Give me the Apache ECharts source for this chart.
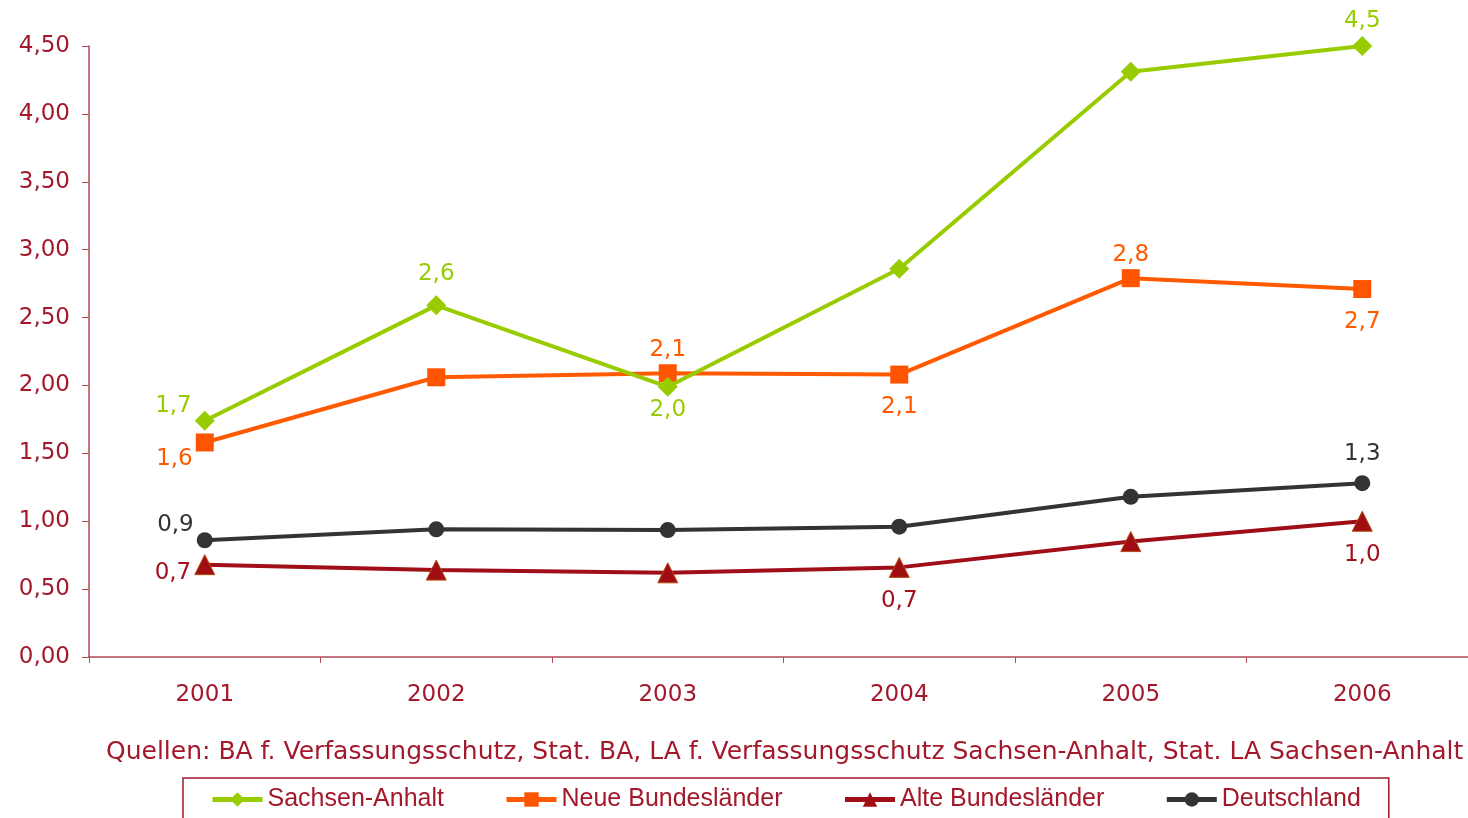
<!DOCTYPE html>
<html>
<head>
<meta charset="utf-8">
<script src="https://cdn.jsdelivr.net/npm/echarts@6/dist/echarts.min.js"></script>
<style>
  html, body { margin: 0; padding: 0; background: #fff; }
  #chart { width: 1468px; height: 818px; }
</style>
</head>
<body>
<div id="chart"></div>
<script>
// values
const years = ['2001', '2002', '2003', '2004', '2005', '2006'];
const sachsenAnhalt = [1.74, 2.59, 1.99, 2.86, 4.31, 4.50];
const neueLaender = [1.58, 2.06, 2.09, 2.08, 2.79, 2.71];
const alteLaender = [0.68, 0.64, 0.62, 0.66, 0.85, 1.00];
const deutschland = [0.86, 0.94, 0.935, 0.96, 1.18, 1.28];

// which points carry a value label, and where it sits (null = no label)
const sachsenLabels = ['leftTop', 'top', 'bottomNear', null, null, 'topNear'];
const neueLabels = ['leftBottom', null, 'topNear', 'bottom', 'topNear', 'bottom'];
const alteLabels = ['left', null, null, 'bottom', null, 'bottom'];
const deutschLabels = ['leftTop', null, null, null, null, 'top'];

const axisRed = '#A3182A';
const font = 'DejaVu Sans';
const fmt1 = v => v.toFixed(1).replace('.', ',');

const placements = {
    top: { position: 'top', distance: 10 },
    topNear: { position: 'top', distance: 3 },
    bottom: { position: 'bottom', distance: 12 },
    bottomNear: { position: 'bottom', distance: 2 },
    left: { position: 'left', distance: 3, offset: [0, 8] },
    leftTop: { position: 'left', distance: 3, offset: [0, -15] },
    leftBottom: { position: 'left', distance: 3, offset: [0, 17] },
};

function withLabels(values, spots, color) {
    return values.map((v, i) => {
        const spot = spots[i];
        if (!spot) return { value: v, label: { show: false } };
        return {
            value: v,
            label: Object.assign({
                show: true,
                color: color,
                fontSize: 23,
                fontFamily: font,
                formatter: p => fmt1(p.value),
            }, placements[spot]),
        };
    });
}

const chart = echarts.init(document.getElementById('chart'));

chart.setOption({
    backgroundColor: '#fff',
    animation: false,
    title: {
        text: 'Quellen: BA f. Verfassungsschutz, Stat. BA, LA f. Verfassungsschutz Sachsen-Anhalt, Stat. LA Sachsen-Anhalt',
        left: 101,
        top: 735,
        textStyle: {
            color: axisRed,
            fontSize: 25,
            fontWeight: 'normal',
            fontFamily: font,
        },
    },
    legend: {
        left: 183,
        top: 778,
        padding: [9, 28, 40, 27],
        borderColor: axisRed,
        borderWidth: 1.5,
        itemWidth: 50,
        itemHeight: 18,
        itemGap: 60,
        itemStyle: { borderWidth: 0 },
        lineStyle: { width: 5 },
        textStyle: {
            color: axisRed,
            fontSize: 25,
            fontFamily: 'Liberation Sans',
        },
        data: ['Sachsen-Anhalt', 'Neue Bundesländer', 'Alte Bundesländer', 'Deutschland'],
    },
    grid: {
        left: 89,
        width: 1389,
        top: 46,
        bottom: 161,
        outerBoundsMode: 'none',
    },
    xAxis: {
        type: 'category',
        data: years,
        boundaryGap: true,
        axisLine: { lineStyle: { color: '#B54A58', width: 1.5 } },
        axisTick: { show: true, length: 6, lineStyle: { color: '#B54A58' } },
        axisLabel: {
            color: axisRed,
            fontSize: 23,
            fontFamily: font,
            margin: 27,
        },
    },
    yAxis: {
        type: 'value',
        min: 0,
        max: 4.5,
        interval: 0.5,
        splitLine: { show: false },
        axisLine: { show: true, lineStyle: { color: '#B54A58', width: 1.5 } },
        axisTick: { show: true, length: 7, lineStyle: { color: '#B54A58' } },
        axisLabel: {
            color: axisRed,
            fontSize: 23,
            fontFamily: font,
            margin: 19,
            formatter: v => v.toFixed(2).replace('.', ','),
        },
    },
    series: [
        {
            name: 'Sachsen-Anhalt',
            type: 'line',
            data: withLabels(sachsenAnhalt, sachsenLabels, '#99CC00'),
            symbol: 'diamond',
            symbolSize: 20,
            lineStyle: { color: '#99CC00', width: 4 },
            itemStyle: { color: '#99CC00' },
            z: 4,
        },
        {
            name: 'Neue Bundesländer',
            type: 'line',
            data: withLabels(neueLaender, neueLabels, '#FF5A00'),
            symbol: 'rect',
            symbolSize: 18,
            lineStyle: { color: '#FF5A00', width: 4 },
            itemStyle: { color: '#FF5500' },
            z: 3,
        },
        {
            name: 'Alte Bundesländer',
            type: 'line',
            data: withLabels(alteLaender, alteLabels, '#A3101E'),
            symbol: 'triangle',
            symbolSize: 20,
            lineStyle: { color: '#A00E18', width: 4 },
            itemStyle: { color: '#A00E14', borderColor: '#B34A10', borderWidth: 1 },
            z: 2,
        },
        {
            name: 'Deutschland',
            type: 'line',
            data: withLabels(deutschland, deutschLabels, '#333333'),
            symbol: 'circle',
            symbolSize: 16,
            lineStyle: { color: '#333333', width: 4 },
            itemStyle: { color: '#333333' },
            z: 2,
        },
    ],
});

window.addEventListener('resize', () => chart.resize());
</script>
</body>
</html>
